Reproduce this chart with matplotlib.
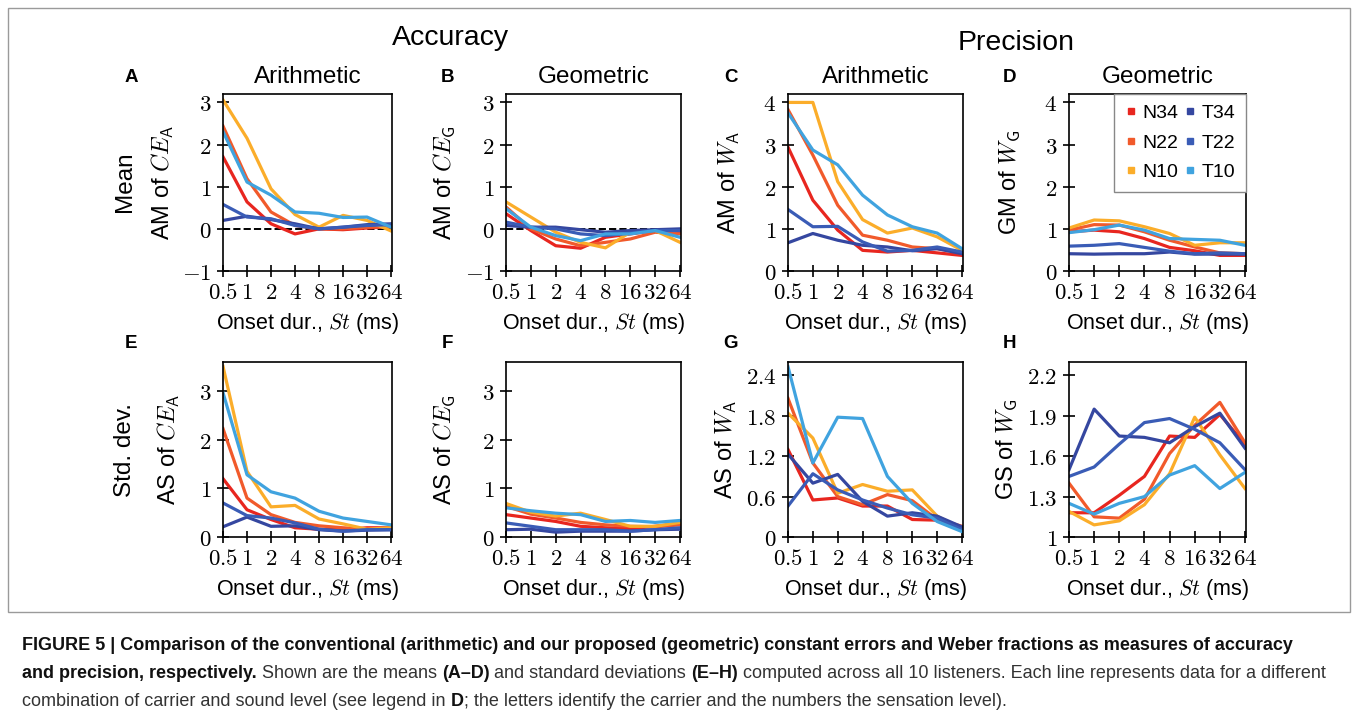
import numpy as np
import matplotlib
matplotlib.use('Agg')
import matplotlib.pyplot as plt
from matplotlib.lines import Line2D
from matplotlib.patches import Rectangle

plt.rcParams['mathtext.fontset'] = 'cm'
plt.rcParams['font.family'] = ['Liberation Sans', 'DejaVu Sans']

W, H = 1358, 718

onset = ['0.5', '1', '2', '4', '8', '16', '32', '64']
series = ['N34', 'N22', 'N10', 'T34', 'T22', 'T10']
colors = ['#e8261f', '#f15a2b', '#fbad2a', '#3547a0', '#3a5cb6', '#40a3df']

# one row per panel, A..H
n34 = [
    [1.71, 0.64, 0.12, -0.12, 0.00, -0.02, 0.02, 0.05],
    [0.36, -0.04, -0.40, -0.46, -0.20, -0.12, -0.04, -0.08],
    [2.94, 1.68, 0.97, 0.49, 0.45, 0.49, 0.43, 0.37],
    [0.93, 0.97, 0.93, 0.77, 0.56, 0.48, 0.37, 0.37],
    [1.20, 0.56, 0.36, 0.19, 0.16, 0.15, 0.19, 0.19],
    [0.46, 0.39, 0.32, 0.22, 0.19, 0.17, 0.22, 0.27],
    [1.30, 0.55, 0.58, 0.46, 0.46, 0.26, 0.25, 0.13],
    [1.18, 1.18, 1.31, 1.45, 1.75, 1.74, 1.91, 1.69],
]
n22 = [
    [2.44, 1.19, 0.40, 0.08, 0.00, 0.00, 0.04, 0.05],
    [0.52, 0.00, -0.24, -0.40, -0.32, -0.24, -0.08, -0.12],
    [3.83, 2.75, 1.56, 0.85, 0.73, 0.57, 0.53, 0.43],
    [0.97, 1.10, 1.09, 0.93, 0.73, 0.57, 0.43, 0.41],
    [2.23, 0.80, 0.46, 0.30, 0.23, 0.19, 0.16, 0.19],
    [0.63, 0.47, 0.39, 0.30, 0.25, 0.22, 0.21, 0.25],
    [2.06, 1.10, 0.60, 0.48, 0.63, 0.54, 0.26, 0.16],
    [1.40, 1.15, 1.14, 1.28, 1.62, 1.83, 2.00, 1.70],
]
n10 = [
    [3.06, 2.15, 0.95, 0.34, 0.04, 0.32, 0.20, -0.05],
    [0.64, 0.28, -0.08, -0.32, -0.45, -0.08, -0.04, -0.32],
    [4.00, 4.00, 2.12, 1.22, 0.90, 1.02, 0.81, 0.49],
    [1.02, 1.21, 1.19, 1.05, 0.89, 0.61, 0.67, 0.67],
    [3.51, 1.35, 0.62, 0.65, 0.37, 0.27, 0.16, 0.19],
    [0.69, 0.51, 0.43, 0.49, 0.36, 0.22, 0.22, 0.30],
    [1.84, 1.47, 0.65, 0.78, 0.68, 0.70, 0.31, 0.12],
    [1.19, 1.09, 1.12, 1.24, 1.47, 1.89, 1.61, 1.36],
]
t34 = [
    [0.20, 0.30, 0.22, 0.12, 0.00, 0.04, 0.10, 0.12],
    [0.08, 0.04, 0.04, -0.02, -0.08, -0.04, -0.02, 0.00],
    [0.67, 0.89, 0.73, 0.61, 0.57, 0.48, 0.53, 0.41],
    [0.41, 0.40, 0.41, 0.41, 0.45, 0.40, 0.40, 0.40],
    [0.21, 0.41, 0.22, 0.23, 0.15, 0.12, 0.14, 0.15],
    [0.15, 0.16, 0.10, 0.12, 0.12, 0.12, 0.15, 0.16],
    [1.23, 0.80, 0.93, 0.53, 0.31, 0.36, 0.31, 0.15],
    [1.50, 1.95, 1.75, 1.74, 1.70, 1.82, 1.92, 1.66],
]
t22 = [
    [0.58, 0.28, 0.24, 0.08, 0.00, 0.04, 0.08, 0.10],
    [0.16, 0.04, 0.00, -0.12, -0.16, -0.10, -0.04, -0.04],
    [1.46, 1.05, 1.06, 0.69, 0.47, 0.49, 0.57, 0.45],
    [0.59, 0.61, 0.65, 0.56, 0.47, 0.41, 0.43, 0.41],
    [0.70, 0.44, 0.39, 0.29, 0.16, 0.12, 0.15, 0.15],
    [0.29, 0.22, 0.15, 0.15, 0.15, 0.12, 0.15, 0.19],
    [0.46, 0.94, 0.70, 0.55, 0.43, 0.33, 0.28, 0.11],
    [1.45, 1.52, 1.69, 1.85, 1.88, 1.80, 1.70, 1.50],
]
t10 = [
    [2.31, 1.11, 0.80, 0.40, 0.37, 0.27, 0.28, 0.04],
    [0.48, 0.04, -0.16, -0.28, -0.12, -0.12, -0.04, -0.20],
    [3.75, 2.87, 2.52, 1.80, 1.33, 1.05, 0.90, 0.53],
    [0.91, 0.98, 1.09, 0.97, 0.77, 0.75, 0.73, 0.61],
    [2.97, 1.28, 0.93, 0.80, 0.53, 0.39, 0.32, 0.25],
    [0.60, 0.54, 0.49, 0.46, 0.32, 0.34, 0.30, 0.34],
    [2.53, 1.10, 1.78, 1.76, 0.90, 0.50, 0.23, 0.08],
    [1.25, 1.17, 1.25, 1.30, 1.46, 1.53, 1.36, 1.48],
]
data = [n34, n22, n10, t34, t22, t10]

letters = ['A', 'B', 'C', 'D', 'E', 'F', 'G', 'H']
col_titles = ['Arithmetic', 'Geometric', 'Arithmetic', 'Geometric']
ylabels = [r'AM of $CE_{\mathsf{A}}$', r'AM of $CE_{\mathsf{G}}$',
           r'AM of $W_{\mathsf{A}}$', r'GM of $W_{\mathsf{G}}$',
           r'AS of $CE_{\mathsf{A}}$', r'AS of $CE_{\mathsf{G}}$',
           r'AS of $W_{\mathsf{A}}$', r'GS of $W_{\mathsf{G}}$']
ylims = [(-1, 3.2), (-1, 3.2), (0, 4.2), (0, 4.2),
         (0, 3.6), (0, 3.6), (0, 2.6), (1, 2.3)]
yticks = [[-1, 0, 1, 2, 3], [-1, 0, 1, 2, 3], [0, 1, 2, 3, 4], [0, 1, 2, 3, 4],
          [0, 1, 2, 3], [0, 1, 2, 3], [0, 0.6, 1.2, 1.8, 2.4], [1, 1.3, 1.6, 1.9, 2.2]]

fig = plt.figure(figsize=(W / 100, H / 100), dpi=100)


def fx(x):
    return x / W


def fy(y):
    return 1 - y / H


# outer frame
fig.patches.append(Rectangle((fx(8), fy(612)), fx(1342), (612 - 8) / H,
                             transform=fig.transFigure, fill=False,
                             edgecolor='#9a9a9a', lw=1.0))

col_left = [223, 506, 788, 1069]
col_right = [392, 681, 963, 1246]
row_top = [94, 362]
row_bot = [271, 537]
ylab_x = [163, 444, 729, 1010, 169, 444, 726, 1007]

x = np.arange(len(onset))
for i in range(8):
    r, c = divmod(i, 4)
    ax = fig.add_axes([fx(col_left[c]), fy(row_bot[r]),
                       (col_right[c] - col_left[c]) / W,
                       (row_bot[r] - row_top[r]) / H])
    if i in (0, 1):
        ax.axhline(0, color='black', ls='--', lw=1.4, zorder=1)
    for s in range(len(series)):
        ax.plot(x, data[s][i], color=colors[s], lw=2.3, zorder=2)
    ax.set_xlim(0, 7.04)
    ax.set_ylim(*ylims[i])
    ax.set_xticks(x)
    ax.set_xticklabels(['$%s$' % t for t in onset])
    ax.set_yticks(yticks[i])
    ax.set_yticklabels(['$%g$' % v for v in yticks[i]])
    ax.tick_params(direction='inout', length=8, width=1.2, labelsize=16.5)
    ax.tick_params(axis='x', pad=3.5)
    ax.tick_params(axis='y', pad=4.5)
    for sp in ax.spines.values():
        sp.set_linewidth(1.2)

    cx = (col_left[c] + col_right[c]) / 2
    cy = (row_top[r] + row_bot[r]) / 2
    fig.text(fx(ylab_x[i]), fy(cy), ylabels[i], rotation=90,
             ha='center', va='center', fontsize=17)
    fig.text(fx(cx), fy(row_bot[r] + 52), r'Onset dur., $St$ (ms)',
             ha='center', va='center', fontsize=15.5)
    letter_x = [131, 447, 731, 1010][c]
    letter_y = [77, 344][r]
    fig.text(fx(letter_x), fy(letter_y), letters[i], ha='center', va='center',
             fontsize=13.5, fontweight='bold')
    if r == 0:
        fig.text(fx(cx), fy(77), col_titles[c], ha='center', va='center',
                 fontsize=17.5)

    if i == 3:
        handles = [Line2D([], [], marker='s', ls='none', color=colors[s],
                          markersize=5) for s in range(len(series))]
        leg = ax.legend(handles, series, loc='upper right', ncol=2,
                        fontsize=14, borderaxespad=0, fancybox=False,
                        edgecolor='#888888', framealpha=1, handlelength=0.6,
                        handletextpad=0.3, columnspacing=0.3,
                        labelspacing=0.6, borderpad=0.55)
        leg.get_frame().set_linewidth(1.0)

fig.text(fx(450), fy(38), 'Accuracy', ha='center', va='center', fontsize=20.5)
fig.text(fx(1016), fy(43), 'Precision', ha='center', va='center', fontsize=20.5)
fig.text(fx(125), fy(182), 'Mean', rotation=90, ha='center', va='center', fontsize=17.5)
fig.text(fx(125), fy(450), 'Std. dev.', rotation=90, ha='center', va='center', fontsize=17.5)

# caption with mixed bold / regular runs
cap_family = ['Liberation Sans Narrow', 'Liberation Sans', 'DejaVu Sans']
cap_lines = [
    [('FIGURE 5 | Comparison of the conventional (arithmetic) and our proposed '
      '(geometric) constant errors and Weber fractions as measures of accuracy', True)],
    [('and precision, respectively.', True), (' Shown are the means ', False),
     ('(A\u2013D)', True), (' and standard deviations ', False), ('(E\u2013H)', True),
     (' computed across all 10 listeners. Each line represents data for a different', False)],
    [('combination of carrier and sound level (see legend in ', False), ('D', True),
     ('; the letters identify the carrier and the numbers the sensation level).', False)],
]
cap_y = [645, 674, 702]
renderer = fig.canvas.get_renderer()


def line_width(runs, size):
    total = 0
    for txt, bold in runs:
        t = fig.text(0, 0, txt, fontsize=size, family=cap_family,
                     fontweight='bold' if bold else 'normal')
        total += t.get_window_extent(renderer=renderer).width
        t.remove()
    return total


# fit the two full lines to the width they take in the reference
cap_size = min(10 * 1313 / line_width(cap_lines[0], 10),
               10 * 1306 / line_width(cap_lines[1], 10))

for runs, yy in zip(cap_lines, cap_y):
    xx = 22
    for txt, bold in runs:
        t = fig.text(fx(xx), fy(yy), txt, fontsize=cap_size,
                     fontweight='bold' if bold else 'normal',
                     family=cap_family, va='center', ha='left',
                     color='#111111' if bold else '#333333')
        xx += t.get_window_extent(renderer=renderer).width

fig.savefig('out.png', dpi=100)
